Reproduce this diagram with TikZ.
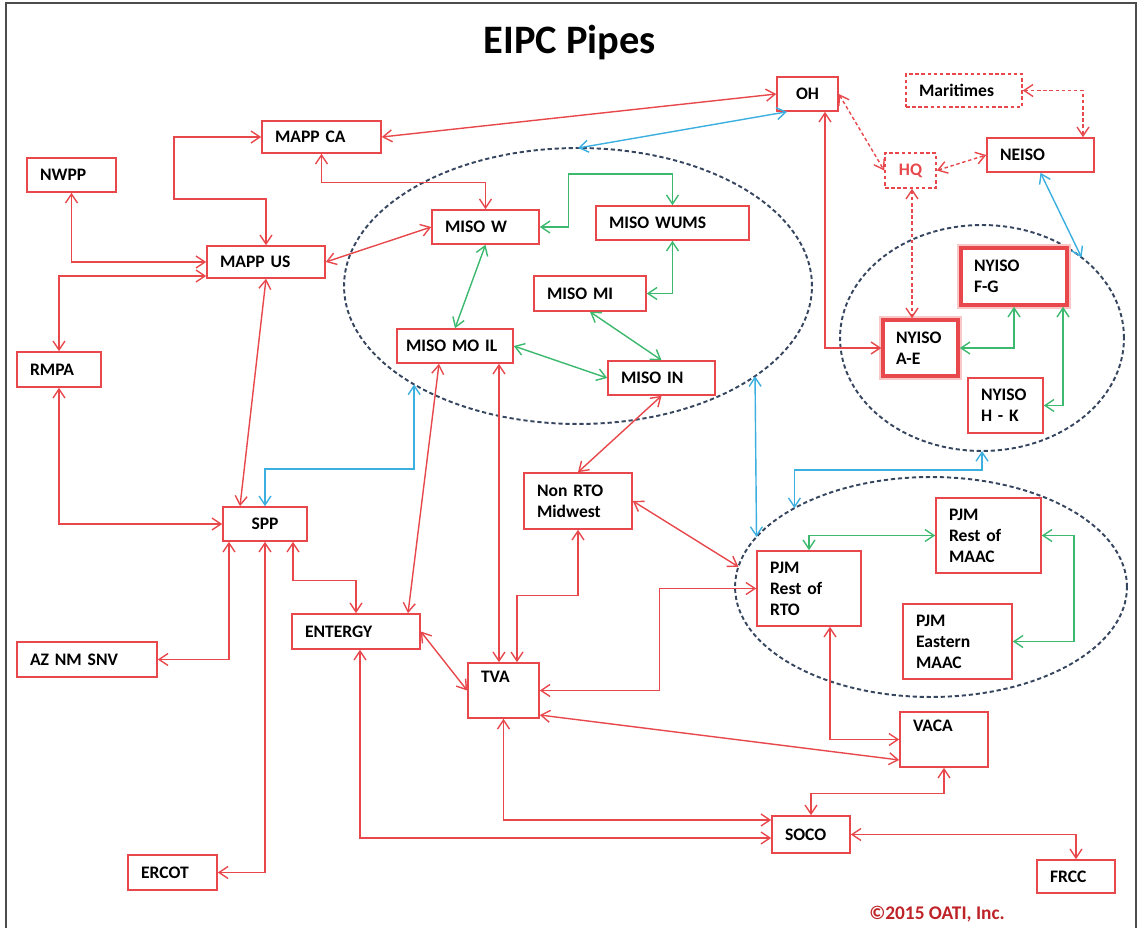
\documentclass[tikz,border=0pt]{standalone}
\usepackage{fontspec}
\setmainfont{Carlito}
\usetikzlibrary{arrows.meta,shapes.geometric}
\definecolor{boxred}{RGB}{232,72,76}
\definecolor{pipegreen}{RGB}{60,185,110}
\definecolor{pipeblue}{RGB}{60,175,225}
\definecolor{ringgray}{RGB}{55,70,95}
\definecolor{oatired}{RGB}{190,35,40}
\tikzset{
  zone/.style 2 args={draw=boxred, fill=white, line width=0.9pt, inner xsep=0.26cm, inner ysep=0pt,
    text width=#1, minimum height=#2, align=left, font=\bfseries\fontsize{10}{12}\selectfont},
  czone/.style 2 args={zone={#1}{#2}, align=center},
  nyglow/.style={line width=2pt, preaction={draw=boxred!30, line width=5pt}},
  dashzone/.style={dash pattern=on 2pt off 1.5pt},
  ring/.style={ellipse, draw=ringgray, line width=1.1pt, dash pattern=on 2.4pt off 1.6pt, inner sep=0pt, outer sep=0pt},
  pipe/.style={draw=boxred, line width=0.8pt, <->, >={Straight Barb[length=1.8mm,width=2.4mm]}},
  flow/.style={pipe, draw=pipegreen},
  seam/.style={pipe, draw=pipeblue}
}
\begin{document}
\begin{tikzpicture}[x=0.02cm,y=-0.02cm]
\useasboundingbox (0,0) rectangle (1138,928);
\draw[gray!60!black, line width=1.2pt] (6,928) -- (6,3) -- (1136,3) -- (1136,928);
\node[ring, minimum width=9.36cm, minimum height=5.52cm] (misoring) at (578,286) {};
\node[ring, minimum width=5.68cm, minimum height=4.52cm] (nyring) at (982,338) {};
\node[ring, minimum width=7.84cm, minimum height=4.40cm] (pjmring) at (931,587) {};
\node[font=\bfseries\fontsize{23}{27}\selectfont, anchor=base] (title) at (570,54) {EIPC Pipes};
\node[zone={1.86cm}{0.64cm}] (mappca) at (321.5,137) {MAPP CA};
\node[zone={1.26cm}{0.68cm}] (nwpp) at (71.5,175) {NWPP};
\node[zone={1.84cm}{0.64cm}] (mappus) at (266,262) {MAPP US};
\node[zone={1.62cm}{0.68cm}] (misow) at (485.5,227) {MISO W};
\node[zone={2.54cm}{0.68cm}] (misowums) at (672.5,223) {MISO WUMS};
\node[zone={1.72cm}{0.70cm}] (misomi) at (590,293.5) {MISO MI};
\node[zone={1.96cm}{0.68cm}, inner xsep=0.18cm] (misomoil) at (455,346) {MISO MO IL};
\node[zone={1.62cm}{0.68cm}] (misoin) at (661.5,378) {MISO IN};
\node[zone={1.16cm}{0.70cm}] (rmpa) at (59,369.5) {RMPA};
\node[czone={1.16cm}{0.68cm}] (spp) at (265,524) {SPP};
\node[zone={1.64cm}{1.12cm}] (nonrto) at (578,501) {Non RTO\\Midwest};
\node[zone={2.04cm}{0.70cm}] (entergy) at (356,631.5) {ENTERGY};
\node[zone={2.28cm}{0.70cm}] (aznm) at (87,659.5) {AZ NM SNV};
\node[zone={0.90cm}{1.10cm}] (tva) at (503.5,690.5) {TVA\\\strut};
\node[zone={1.26cm}{0.70cm}] (ercot) at (172.5,872.5) {ERCOT};
\node[czone={0.70cm}{0.68cm}] (oh) at (807.5,94) {OH};
\node[zone={1.80cm}{0.66cm}, dashzone] (maritimes) at (964,90.5) {Maritimes};
\node[zone={1.62cm}{0.68cm}] (neiso) at (1040.5,155) {NEISO};
\node[czone={0.50cm}{0.70cm}, dashzone, text=boxred] (hq) at (910.5,170.5) {HQ};
\node[zone={1.60cm}{1.14cm}, nyglow] (nyfg) at (1014,276.5) {NYISO\\F-G};
\node[zone={0.98cm}{1.12cm}, nyglow] (nyae) at (920.5,348) {NYISO\\A-E};
\node[zone={0.98cm}{1.10cm}] (nyhk) at (1005.5,405.5) {NYISO\\H - K};
\node[zone={1.56cm}{1.50cm}] (pjmrto) at (809,588.5) {PJM\\Rest of\\RTO};
\node[zone={1.58cm}{1.50cm}] (pjmmaac) at (988.5,535.5) {PJM\\Rest of\\MAAC};
\node[zone={1.66cm}{1.50cm}] (pjmeast) at (957.5,641.5) {PJM\\Eastern\\MAAC};
\node[zone={1.24cm}{1.10cm}] (vaca) at (944,739.5) {VACA\\\strut};
\node[zone={1.04cm}{0.74cm}] (soco) at (811,834.5) {SOCO};
\node[zone={1.04cm}{0.66cm}] (frcc) at (1076,876.5) {FRCC};
\node[font=\bfseries\fontsize{11}{13}\selectfont, text=oatired, anchor=base] (oati) at (937,919) {©2015 OATI, Inc.};
\draw[pipe] (mappca.east) -- (oh.west);
\draw[pipe] (mappca.west) -| (174,199) -| (mappus.north);
\draw[pipe] (mappca.south) -- ++(0,29) -| (misow.north);
\draw[pipe] (nwpp.south) |- (mappus.west);
\draw[pipe] (rmpa.north) |- (mappus.west |- 0,276);
\draw[pipe] (mappus.east) -- (misow.west);
\draw[pipe] (mappus.south) -- (spp.north -| 240,0);
\draw[pipe] (rmpa.south) |- (spp.west);
\draw[pipe] (spp.south -| 229,0) |- (aznm.east);
\draw[pipe] (spp.south) |- (ercot.east);
\draw[pipe] (spp.south -| 293,0) -- ++(0,39) -| (entergy.north);
\draw[pipe] (misomoil.south -| 439,0) -- (entergy.north -| 408,0);
\draw[pipe] (misomoil.south -| 499,0) -- (tva.north -| 499,0);
\draw[pipe] (misoin.south) -- (nonrto.north);
\draw[pipe] (nonrto.east) -- (pjmring.174);
\draw[pipe] (nonrto.south) -- ++(0,66) -| (tva.north -| 517,0);
\draw[pipe] (entergy.east) -- (tva.west);
\draw[pipe] (pjmrto.west) -- ++(-97,0) |- (tva.east);
\draw[pipe] (tva.east |- 0,715) -- (vaca.west |- 0,760);
\draw[pipe] (pjmrto.south -| 830,0) |- (vaca.west);
\draw[pipe] (vaca.south) -- ++(0,26) -| (soco.north);
\draw[pipe] (tva.south) |- (soco.west |- 0,820);
\draw[pipe] (entergy.south -| 360,0) |- (soco.west |- 0,838);
\draw[pipe] (soco.east) -| (frcc.north);
\draw[pipe] (oh.south -| 825,0) |- (nyae.west);
\draw[pipe, dashzone] (oh.east) -- (hq.west);
\draw[pipe, dashzone] (hq.east) -- (neiso.west);
\draw[pipe, dashzone] (maritimes.east) -| (neiso.north -| 1083,0);
\draw[pipe, dashzone] (hq.south -| 912,0) -- (nyae.north -| 912,0);
\draw[flow] (misow.east) -- ++(29,0) -- ++(0,-53) -| (misowums.north);
\draw[flow] (misowums.south) |- (misomi.east);
\draw[flow] (misow.south) -- (misomoil.north);
\draw[flow] (misomoil.east) -- (misoin.west);
\draw[flow] (misomi.south) -- (misoin.north);
\draw[flow] (nyae.east) -| (nyfg.south);
\draw[flow] (nyfg.south -| 1063,0) |- (nyhk.east);
\draw[flow] (pjmrto.north) |- (pjmmaac.west);
\draw[flow] (pjmmaac.east) -- ++(32,0) |- (pjmeast.east);
\draw[seam] (oh.south -| 787,0) -- (misoring.north);
\draw[seam] (spp.north) -- (spp.north |- 0,469) -| (misoring.211);
\draw[seam] (misoring.333) -- (pjmring.164);
\draw[seam] (nyring.south) -- (nyring.south |- 0,470) -| (pjmring.150);
\draw[seam] (neiso.south) -- (nyring.39);
\end{tikzpicture}
\end{document}
